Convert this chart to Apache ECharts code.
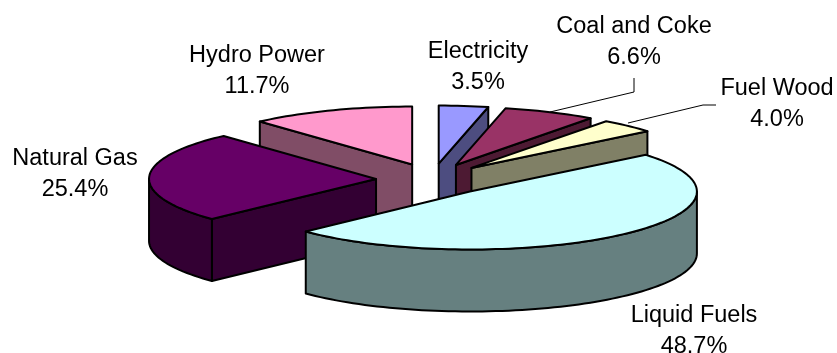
<!DOCTYPE html>
<html>
<head>
<meta charset="utf-8">
<style>html,body{margin:0;padding:0;background:#fff}#chart{width:837px;height:353px}</style>
<script src="https://cdn.jsdelivr.net/npm/echarts@6/dist/echarts.min.js"></script>
</head>
<body>
<div id="chart"></div>
<script>
// Energy consumption shares, clockwise from twelve o'clock.
const categories = ['Electricity', 'Coal and Coke', 'Fuel Wood', 'Liquid Fuels', 'Natural Gas', 'Hydro Power'];
const shares = [3.5, 6.6, 4.0, 48.7, 25.4, 11.7];
const topColors = ['#9999FF', '#993366', '#FFFFCC', '#CCFFFF', '#660066', '#FF99CC'];
const sideColors = ['#4D4D80', '#4D1A33', '#808066', '#668080', '#330033', '#804D66'];

// Projection of the exploded disc.
const disc = { cx: 432.5, cy: 179.5, rx: 227, ry: 58, depth: 62, explodeX: 56.5, explodeY: 16 };
// Painter's order: rear slices first, the large front slice last.
const paintOrder = [5, 0, 1, 2, 4, 3];
// Label anchors: text centre of the two-line block, leader polyline if any.
const labelCentres = [[478, 67.5], [634, 42.5], [777, 104], [694, 331.5], [75, 174], [257, 71]];
const leaders = [null, [[550, 112], [634, 92], [634, 78]], [[628, 123], [703, 105], [716, 105]], null, null, null];

const total = shares.reduce((a, b) => a + b, 0);
const slices = [];
let acc = 0;
shares.forEach((v, i) => {
  const a0 = acc / total * Math.PI * 2;
  acc += v;
  slices.push({ a0, a1: acc / total * Math.PI * 2, i });
});

function rimPoint(apex, a, dy) {
  return [apex[0] + disc.rx * Math.sin(a), apex[1] - disc.ry * Math.cos(a) + (dy || 0)];
}
function arcPoints(apex, a0, a1, dy) {
  const n = Math.max(2, Math.ceil((a1 - a0) / 0.03));
  const pts = [];
  for (let k = 0; k <= n; k++) pts.push(rimPoint(apex, a0 + (a1 - a0) * k / n, dy));
  return pts;
}
function poly(points, fill) {
  return {
    type: 'polygon',
    shape: { points },
    style: { fill, stroke: '#000', lineWidth: 2, lineJoin: 'round' }
  };
}

function renderSlice(params, api) {
  const s = slices[api.value(0)];
  const mid = (s.a0 + s.a1) / 2;
  const apex = [disc.cx + disc.explodeX * Math.sin(mid), disc.cy - disc.explodeY * Math.cos(mid)];
  const side = sideColors[s.i];
  const d = disc.depth;
  const children = [];
  const cutFace = (a) => {
    const p = rimPoint(apex, a);
    children.push(poly([apex, p, [p[0], p[1] + d], [apex[0], apex[1] + d]], side));
  };
  // A cut face shows only when it turns towards the viewer.
  if (Math.sin(s.a0) < -1e-6) cutFace(s.a0);
  if (Math.sin(s.a1) > 1e-6) cutFace(s.a1);
  // Outer wall: only the part of the rim on the near half of the ellipse.
  const w0 = Math.max(s.a0, Math.PI / 2), w1 = Math.min(s.a1, Math.PI * 1.5);
  if (w1 > w0) {
    children.push(poly(arcPoints(apex, w0, w1, 0).concat(arcPoints(apex, w0, w1, d).reverse()), side));
  }
  children.push(poly([apex].concat(arcPoints(apex, s.a0, s.a1, 0)), topColors[s.i]));
  return { type: 'group', children };
}

const labelGraphics = [];
categories.forEach((name, i) => {
  const [x, y] = labelCentres[i];
  labelGraphics.push({
    type: 'text', x, y, silent: true,
    style: {
      text: name + '\n' + shares[i].toFixed(1) + '%',
      fill: '#000', font: '23.5px "Liberation Sans", Arial, sans-serif',
      align: 'center', verticalAlign: 'middle', lineHeight: 31
    }
  });
  if (leaders[i]) {
    labelGraphics.push({
      type: 'polyline', silent: true,
      shape: { points: leaders[i] },
      style: { stroke: '#000', lineWidth: 1, fill: null }
    });
  }
});

const chart = echarts.init(document.getElementById('chart'), null, { renderer: 'canvas' });
chart.setOption({
  animation: false,
  backgroundColor: '#fff',
  graphic: labelGraphics.map(g => Object.assign(g, { z: 10 })),
  series: [{
    type: 'custom',
    coordinateSystem: 'none',
    silent: true,
    data: paintOrder.map(i => [i]),
    renderItem: renderSlice
  }]
});
</script>
</body>
</html>
